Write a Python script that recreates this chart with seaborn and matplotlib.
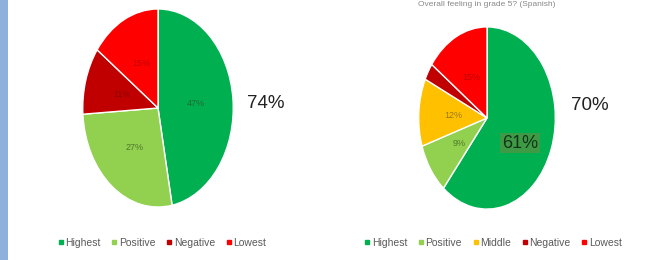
import numpy as np
import seaborn as sns
import matplotlib.pyplot as plt
from matplotlib.lines import Line2D
from matplotlib.patches import Rectangle

sns.set_theme(style="white")
plt.rcParams['font.family'] = ['Liberation Sans', 'DejaVu Sans']

# data
left_labels = ["Highest", "Positive", "Negative", "Lowest"]
left_values = [47, 27, 11, 15]
left_total = "74%"

right_labels = ["Highest", "Positive", "Middle", "Negative", "Lowest"]
right_values = [61, 9, 12, 3, 15]
right_total = "70%"

colors = {"Highest": "#00b050", "Positive": "#92d050", "Middle": "#ffc000",
          "Negative": "#c00000", "Lowest": "#ff0000"}
text_colors = {"Highest": "#1f6b35", "Positive": "#4f7a2a", "Middle": "#9a7a10",
               "Negative": "#900000", "Lowest": "#c00000"}

W, H = 650, 260
fig = plt.figure(figsize=(6.5, 2.6), dpi=100)
fig.patch.set_facecolor("white")

# blue strip on the left edge
fig.patches.append(Rectangle((0, 0), 8 / W, 1, transform=fig.transFigure,
                             facecolor="#8fb0da", edgecolor="none"))


def pie_axes(cx, cy, rx, ry):
    ax = fig.add_axes([(cx - rx) / W, 1 - (cy + ry) / H, 2 * rx / W, 2 * ry / H])
    return ax


def draw_pie(ax, labels, values, hide=()):
    wedges, texts, autotexts = ax.pie(
        values, colors=[colors[l] for l in labels], startangle=90,
        counterclock=False, autopct="%d%%", pctdistance=0.5,
        wedgeprops=dict(edgecolor="white", linewidth=1),
        textprops=dict(fontsize=6.5))
    for lab, t in zip(labels, autotexts):
        t.set_color(text_colors[lab])
    for i in hide:
        autotexts[i].set_visible(False)
    ax.set_aspect("auto")
    ax.set_xlim(-1.01, 1.01)
    ax.set_ylim(-1.01, 1.01)
    ax.axis("off")
    return autotexts


ax1 = pie_axes(158, 108, 76, 100)
draw_pie(ax1, left_labels, left_values)
fig.text(266 / W, 1 - 104 / H, left_total, fontsize=13.5, color="#222222",
         ha="center", va="center")

ax2 = pie_axes(487, 118, 69, 92)
at = draw_pie(ax2, right_labels, right_values, hide=(3,))
at[0].set_visible(False)
fig.text(520 / W, 1 - 143 / H, "61%", fontsize=13, color="#12341a",
         ha="center", va="center",
         bbox=dict(boxstyle="square,pad=0.1", facecolor="#3f9a45", edgecolor="none"))
fig.text(590 / W, 1 - 106 / H, right_total, fontsize=13.5, color="#222222",
         ha="center", va="center")

# faint title above right chart
fig.text(487 / W, 1 - 5 / H, "Overall feeling in grade 5? (Spanish)", fontsize=6,
         color="#888888", ha="center", va="center")


def legend_at(labels, x):
    handles = [Line2D([], [], marker="s", linestyle="none", markersize=3.5,
                      color=colors[l]) for l in labels]
    fig.legend(handles, labels, loc="center", bbox_to_anchor=(x / W, 1 - 243 / H),
               ncol=len(labels), frameon=False, fontsize=7.5, handlelength=0.6,
               handletextpad=0.15, columnspacing=1.0, labelcolor="#595959")


legend_at(left_labels, 162)
legend_at(right_labels, 493)

fig.savefig("out.png", dpi=100, facecolor="white")
